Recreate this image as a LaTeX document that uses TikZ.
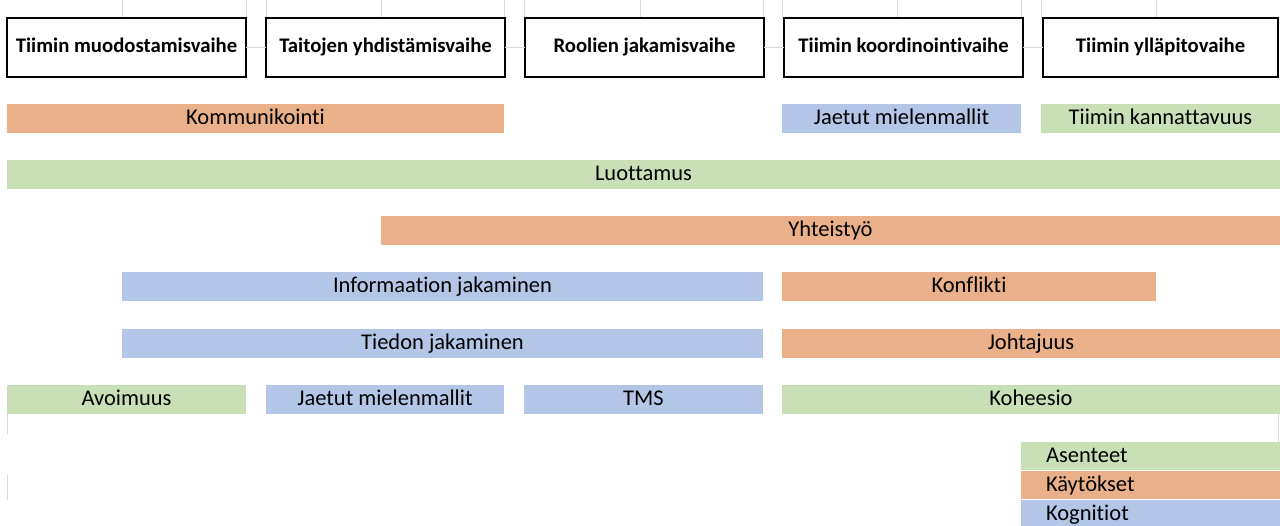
\documentclass[tikz,border=0pt]{standalone}
\usepackage{fontspec}
\setmainfont{Carlito}[Ligatures={NoCommon,NoRequired,NoContextual}]
\usepackage{tikz}
\usetikzlibrary{positioning}

\definecolor{orng}{HTML}{EAB08A}
\definecolor{blu}{HTML}{B4C6E7}
\definecolor{grn}{HTML}{C9E0B6}
\definecolor{grid}{HTML}{D9D9D9}

\begin{document}
\begin{tikzpicture}[phase/.style={draw=black, line width=0.7pt, outer sep=0pt, minimum width=4.78cm, minimum height=1.18cm, inner sep=0pt, text height=9pt, text depth=3pt, font=\fontsize{11.8}{14}\selectfont\bfseries},
    bar/.style={fill=#1, minimum height=0.58cm, inner sep=0pt, text height=10pt, text depth=3pt, font=\fontsize{12.8}{15}\selectfont},
    legend/.style={fill=#1, minimum width=5.18cm, minimum height=0.57cm, text width=4.18cm, align=left, inner xsep=0.5cm, inner ysep=0pt, text height=10.5pt, text depth=3pt, font=\fontsize{12.8}{15}\selectfont},
    gridline/.style={draw=grid, line width=0.5pt}]
        \useasboundingbox (0,0) rectangle (25.6,-10.5);

        % faint sheet grid
        \foreach \x in {2.44,4.92,5.32,7.62,10.08,10.48,12.80,15.26,15.64,17.94,20.42,20.82,23.12}
            \draw[gridline] (\x,0) -- (\x,-0.36);
        \draw[gridline] (0.14,-8.28) -- (0.14,-8.68);
        \draw[gridline] (0.14,-9.50) -- (0.14,-10.0);
        \draw[gridline] (25.56,-8.28) -- (25.56,-8.84);

        % phases
        \node[phase] (muod) at (2.53,-0.95) {Tiimin muodostamisvaihe};
        \node[phase, right=0.4cm of muod] (taito) {Taitojen yhdistämisvaihe};
        \node[phase, right=0.4cm of taito] (rool) {Roolien jakamisvaihe};
        \node[phase, right=0.4cm of rool] (koord) {Tiimin koordinointivaihe};
        \node[phase, right=0.4cm of koord, minimum width=4.7cm] (yllap) {Tiimin ylläpitovaihe};
        \draw[gridline] (muod) -- (taito);
        \draw[gridline] (taito) -- (rool);
        \draw[gridline] (rool) -- (koord);
        \draw[gridline] (koord) -- (yllap);

        % row 1
        \node[bar=orng, minimum width=9.94cm] (komm) at (5.11,-2.36) {Kommunikointi};
        \node[bar=blu, minimum width=4.78cm] (jaetut1) at (18.03,-2.36) {Jaetut mielenmallit};
        \node[bar=grn, minimum width=4.78cm] (kann) at (23.21,-2.36) {Tiimin kannattavuus};
        % row 2
        \node[bar=grn, minimum width=25.46cm] (luot) at (12.87,-3.48) {Luottamus};
        % row 3
        \node[bar=orng, minimum width=17.98cm] (yht) at (16.61,-4.60) {Yhteistyö};
        % row 4
        \node[bar=blu, minimum width=12.82cm] (info) at (8.85,-5.73) {Informaation jakaminen};
        \node[bar=orng, minimum width=7.48cm] (konf) at (19.38,-5.73) {Konflikti};
        % row 5
        \node[bar=blu, minimum width=12.82cm] (tied) at (8.85,-6.86) {Tiedon jakaminen};
        \node[bar=orng, minimum width=9.96cm] (joht) at (20.62,-6.86) {Johtajuus};
        % row 6
        \node[bar=grn, minimum width=4.78cm] (avoi) at (2.53,-7.99) {Avoimuus};
        \node[bar=blu, minimum width=4.76cm] (jaetut2) at (7.70,-7.99) {Jaetut mielenmallit};
        \node[bar=blu, minimum width=4.78cm] (tms) at (12.87,-7.99) {TMS};
        \node[bar=grn, minimum width=9.96cm] (kohe) at (20.62,-7.99) {Koheesio};

        % legend
        \node[legend=grn] (asen) at (23.01,-9.115) {Asenteet};
        \node[legend=orng, below=0pt of asen] (kayt) {Käytökset};
        \node[legend=blu, below=0pt of kayt] (kogn) {Kognitiot};
    \end{tikzpicture}
\end{document}
